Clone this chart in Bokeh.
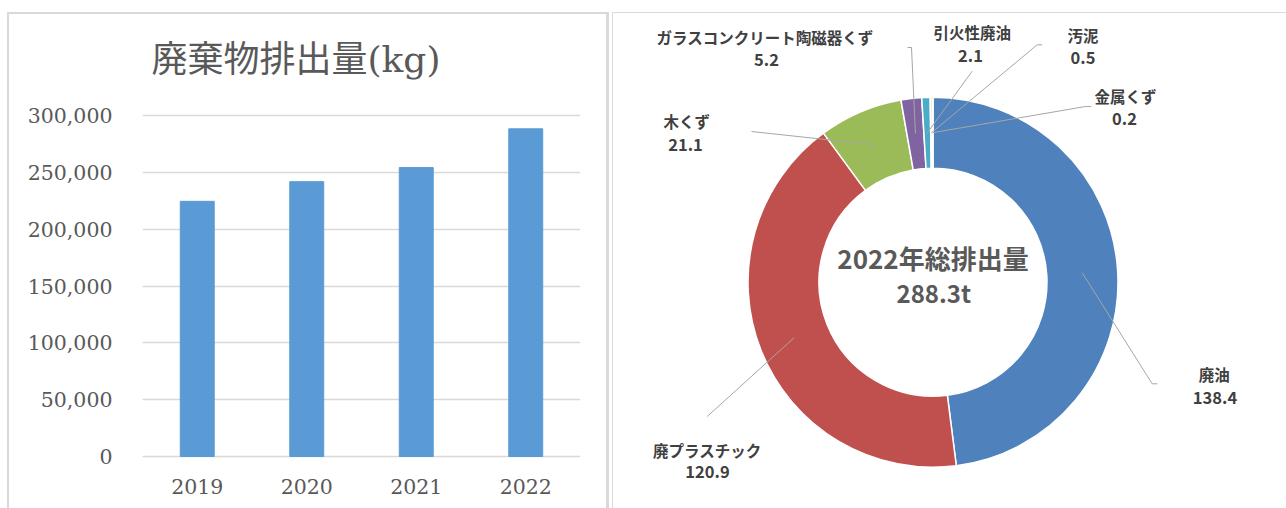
import numpy as np
from bokeh.plotting import figure
from bokeh.layouts import row
from bokeh.models import (Range1d, FactorRange, NumeralTickFormatter,
                          SingleIntervalTicker)
from bokeh.core.properties import value
from bokeh.embed import file_html
from bokeh.resources import INLINE

# ---------------- data ----------------
years = ["2019", "2020", "2021", "2022"]
emissions_kg = [224500, 241800, 254200, 288300]

waste_types = ["廃油", "廃プラスチック", "木くず", "ガラスコンクリート陶磁器くず",
               "引火性廃油", "汚泥", "金属くず"]
waste_t = [138.4, 120.9, 21.1, 5.2, 2.1, 0.5, 0.2]
waste_value_labels = ["138.4", "120.9", "21.1", "5.2", "2.1", "0.5", "0.2"]
center_title = "2022年総排出量"
center_total = "288.3t"
bar_title = "廃棄物排出量(kg)"

# ---------------- styles / layout ----------------
slice_colors = ["#4f81bd", "#c0504d", "#9bbb59", "#8064a2", "#4bacc6", "#f79646", "#2c4d75"]
SERIF = "DejaVu Serif, Noto Sans CJK JP"
JP = value("Noto Sans CJK JP")
GRAY = "#595959"
BORDER = "#d9d9d9"

panel_bg = (f"linear-gradient({BORDER},{BORDER}) 7px 12px / 2px 100% no-repeat, "
            f"linear-gradient({BORDER},{BORDER}) 7px 12px / 602px 2px no-repeat, "
            f"linear-gradient({BORDER},{BORDER}) 606px 12px / 3px 100% no-repeat, white")

# ---------------- bar chart ----------------
px_per_unit = 300000 / 341.0
p1 = figure(x_range=FactorRange(*years), y_range=Range1d(-2 * px_per_unit, 300000 + 5 * px_per_unit),
            width=609, height=508, output_backend="svg", toolbar_location=None,
            min_border_left=142, min_border_right=29, min_border_top=110, min_border_bottom=50,
            background_fill_color=None, border_fill_color=None,
            styles={"background": panel_bg})
p1.frame_align = False
p1.vbar(x=years, top=emissions_kg, width=0.31, fill_color="#5b9bd5", line_color="#5b9bd5")
p1.outline_line_color = None
p1.xgrid.grid_line_color = None
p1.ygrid.grid_line_color = BORDER
p1.ygrid.grid_line_width = 1.5
p1.yaxis.ticker = SingleIntervalTicker(interval=50000, num_minor_ticks=0)
p1.yaxis.formatter = NumeralTickFormatter(format="0,0")
for ax in (p1.xaxis[0], p1.yaxis[0]):
    ax.axis_line_color = None
    ax.major_tick_line_color = None
    ax.minor_tick_line_color = None
    ax.major_tick_in = 0
    ax.major_tick_out = 0
    ax.major_label_text_font = SERIF
    ax.major_label_text_font_size = "20.5px"
    ax.major_label_text_color = GRAY
p1.yaxis.major_label_standoff = 30
p1.xaxis.major_label_standoff = 20

p1.title.text = bar_title
p1.title.text_font = SERIF
p1.title.text_font_size = "36px"
p1.title.text_font_style = "normal"
p1.title.text_color = GRAY
p1.title.align = "left"
p1.title.offset = 9
p1.title.standoff = 62

# ---------------- donut chart ----------------
X0, X1, Y0, Y1 = 609, 1286, 0, 508
p2 = figure(x_range=Range1d(X0, X1), y_range=Range1d(Y0, Y1), width=X1 - X0, height=Y1 - Y0,
            output_backend="svg", toolbar_location=None, min_border=0,
            x_axis_location=None, y_axis_location=None)
p2.frame_align = False
p2.grid.visible = False
p2.outline_line_color = None

def Y(py):
    return 508 - py

# panel border
p2.line([612, 612, X1], [Y(508), Y(12), Y(12)], line_color=BORDER, line_width=1)

cx, cy = 932.5, Y(281.7)
r_in, r_out = 114, 185
vals = np.array(waste_t)
total = vals.sum()
cum = np.concatenate([[0.0], np.cumsum(vals)])
start = np.pi / 2 - cum[:-1] / total * 2 * np.pi
end = np.pi / 2 - cum[1:] / total * 2 * np.pi
p2.annular_wedge(x=cx, y=cy, inner_radius=r_in, outer_radius=r_out,
                 start_angle=start, end_angle=end, direction="clock",
                 fill_color=slice_colors, line_color="white", line_width=1.5)

# leader lines: anchor at mid-ring / mid-angle of each slice
mid = (cum[:-1] + cum[1:]) / 2 / total * 2 * np.pi
r_mid = (r_in + r_out) / 2
ax_ = cx + r_mid * np.sin(mid)
ay_ = cy + r_mid * np.cos(mid)
leader_ends = [
    [(1151.7, 383.3), (1156.7, 383.3)],
    [(706.7, 416)],
    [(751, 131)],
    [(911, 47), (907, 47)],
    [(971.7, 70.7)],
    [(1036.7, 44.3), (1041.7, 44.3)],
    [(1085, 106), (1090.7, 106)],
]
xs = [[a] + [pt[0] for pt in ends] for a, ends in zip(ax_, leader_ends)]
ys = [[b] + [Y(pt[1]) for pt in ends] for b, ends in zip(ay_, leader_ends)]
p2.multi_line(xs, ys, line_color="#a6a6a6", line_width=1)

label_x = [1213.7, 706.7, 686.3, 764.5, 971.7, 1082.5, 1125]
name_y = [373.3, 449.3, 120, 36, 31.7, 34.3, 95]
value_x = [1214.5, 707, 685, 766, 970, 1082.5, 1124]
value_y = [397.3, 470.7, 144, 59.3, 55, 56.7, 118]
p2.text(x=label_x, y=[Y(v) for v in name_y], text=waste_types, text_font=JP,
        text_font_size="15.5px", text_font_style="bold", text_color="#404040",
        text_align="center", text_baseline="middle")
p2.text(x=value_x, y=[Y(v) for v in value_y], text=waste_value_labels, text_font=JP,
        text_font_size="16.5px", text_font_style="bold", text_color="#404040",
        text_align="center", text_baseline="middle")

p2.text(x=[932.5], y=[Y(257.3)], text=[center_title], text_font=JP, text_font_size="26px",
        text_font_style="bold", text_color=GRAY, text_align="center", text_baseline="middle")
p2.text(x=[933.3], y=[Y(292.3)], text=[center_total], text_font=JP, text_font_size="24px",
        text_font_style="bold", text_color=GRAY, text_align="center", text_baseline="middle")

layout = row(p1, p2)
open("out.html", "w").write(file_html(layout, INLINE))
